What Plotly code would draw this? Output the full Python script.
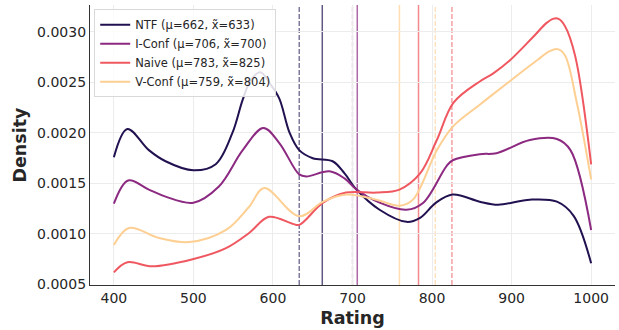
import plotly.graph_objects as go

# ---- data ----
series_names = ["NTF", "I-Conf", "Naive", "V-Conf"]
colors = ["#221150", "#8c2981", "#ef5860", "#fecf92"]
means = [662, 706, 783, 759]
medians = [633, 700, 825, 804]

ntf_x = [400, 417, 444, 465, 500, 528, 549, 562, 572, 584, 597, 608, 621, 633, 650, 675, 690, 705, 734, 768, 785, 805, 826, 860, 883, 923, 957, 978, 1000]
ntf_y = [0.00176, 0.00204, 0.00183, 0.00172, 0.00163, 0.00169, 0.00200, 0.00233, 0.00252, 0.00260, 0.00248, 0.00234, 0.00200, 0.00183, 0.00175, 0.00172, 0.00160, 0.00144, 0.00124, 0.00112, 0.00116, 0.00131, 0.00139, 0.00132, 0.00129, 0.00134, 0.00132, 0.00118, 0.00071]

iconf_x = [400, 418, 444, 465, 500, 532, 562, 588, 608, 633, 642, 671, 690, 705, 734, 768, 789, 818, 826, 860, 881, 923, 957, 974, 1000]
iconf_y = [0.00130, 0.00153, 0.00144, 0.00137, 0.00131, 0.00147, 0.00183, 0.00205, 0.00190, 0.00159, 0.00157, 0.00162, 0.00155, 0.00144, 0.00131, 0.00124, 0.00131, 0.00167, 0.00173, 0.00179, 0.00180, 0.00193, 0.00194, 0.00183, 0.00104]

naive_x = [400, 417, 448, 499, 541, 570, 595, 625, 633, 663, 692, 730, 759, 785, 806, 827, 860, 877, 898, 927, 944, 952, 959, 967, 980, 1000]
naive_y = [0.00062, 0.00072, 0.00068, 0.00075, 0.00086, 0.00101, 0.00117, 0.00110, 0.00109, 0.00131, 0.00141, 0.00141, 0.00144, 0.00160, 0.00193, 0.00230, 0.00251, 0.00259, 0.00272, 0.00295, 0.00309, 0.00313, 0.00313, 0.00306, 0.00276, 0.00169]

vconf_x = [400, 419, 457, 495, 541, 570, 589, 633, 663, 692, 730, 759, 776, 806, 827, 860, 894, 932, 948, 958, 967, 982, 1000]
vconf_y = [0.00089, 0.00106, 0.00096, 0.00092, 0.00104, 0.00127, 0.001455, 0.001175, 0.00132, 0.00139, 0.00134, 0.00128, 0.00134, 0.00183, 0.00207, 0.00228, 0.00249, 0.00272, 0.00281, 0.00283, 0.00277, 0.00230, 0.00154]

xs = [ntf_x, iconf_x, naive_x, vconf_x]
ys = [ntf_y, iconf_y, naive_y, vconf_y]

x_ticks = [400, 500, 600, 700, 800, 900, 1000]
y_ticks = [0.0005, 0.0010, 0.0015, 0.0020, 0.0025, 0.0030]
y_tick_labels = ["0.0005", "0.0010", "0.0015", "0.0020", "0.0025", "0.0030"]

fig = go.Figure()

# vertical mean / median lines
for c, m, md in zip(colors, means, medians):
    fig.add_vline(x=m, line=dict(color=c, width=1.5), opacity=0.7, layer="below")
    fig.add_vline(x=md, line=dict(color=c, width=1.2, dash="5px,2px"), opacity=0.7, layer="below")

for name, c, x, y, m, md in zip(series_names, colors, xs, ys, means, medians):
    fig.add_trace(go.Scatter(
        x=x, y=y, mode="lines",
        line=dict(color=c, width=2, shape="spline", smoothing=1.0),
        name=f"{name} (\u03bc={m}, x\u0303={md})",
    ))

font_family = "DejaVu Sans"
fig.update_layout(
    width=619, height=330,
    margin=dict(l=90, r=4, t=5, b=45),
    paper_bgcolor="white", plot_bgcolor="white",
    font=dict(family=font_family, color="#262626"),
    showlegend=True,
    legend=dict(
        x=0.008, y=0.985, xanchor="left", yanchor="top",
        bgcolor="rgba(255,255,255,0.85)", bordercolor="#d9d9d9", borderwidth=1,
        font=dict(size=11.5, family=font_family, color="#262626"),
        itemwidth=30, tracegroupgap=0,
    ),
    xaxis=dict(
        range=[370, 1030], tickvals=x_ticks, ticks="",
        showgrid=True, gridcolor="#ececec", gridwidth=0.8,
        zeroline=False, showline=True, linecolor="#333333", linewidth=1.2,
        tickfont=dict(size=14),
        title=dict(text="<b>Rating</b>", font=dict(size=17.5), standoff=6),
    ),
    yaxis=dict(
        range=[0.000495, 0.003267], tickvals=y_ticks, ticktext=y_tick_labels, ticks="",
        showgrid=True, gridcolor="#ececec", gridwidth=0.8,
        zeroline=False, showline=True, linecolor="#333333", linewidth=1.2,
        tickfont=dict(size=14),
        title=dict(text="<b>Density</b>", font=dict(size=17.5), standoff=5),
    ),
)

fig.write_html("out.html")
